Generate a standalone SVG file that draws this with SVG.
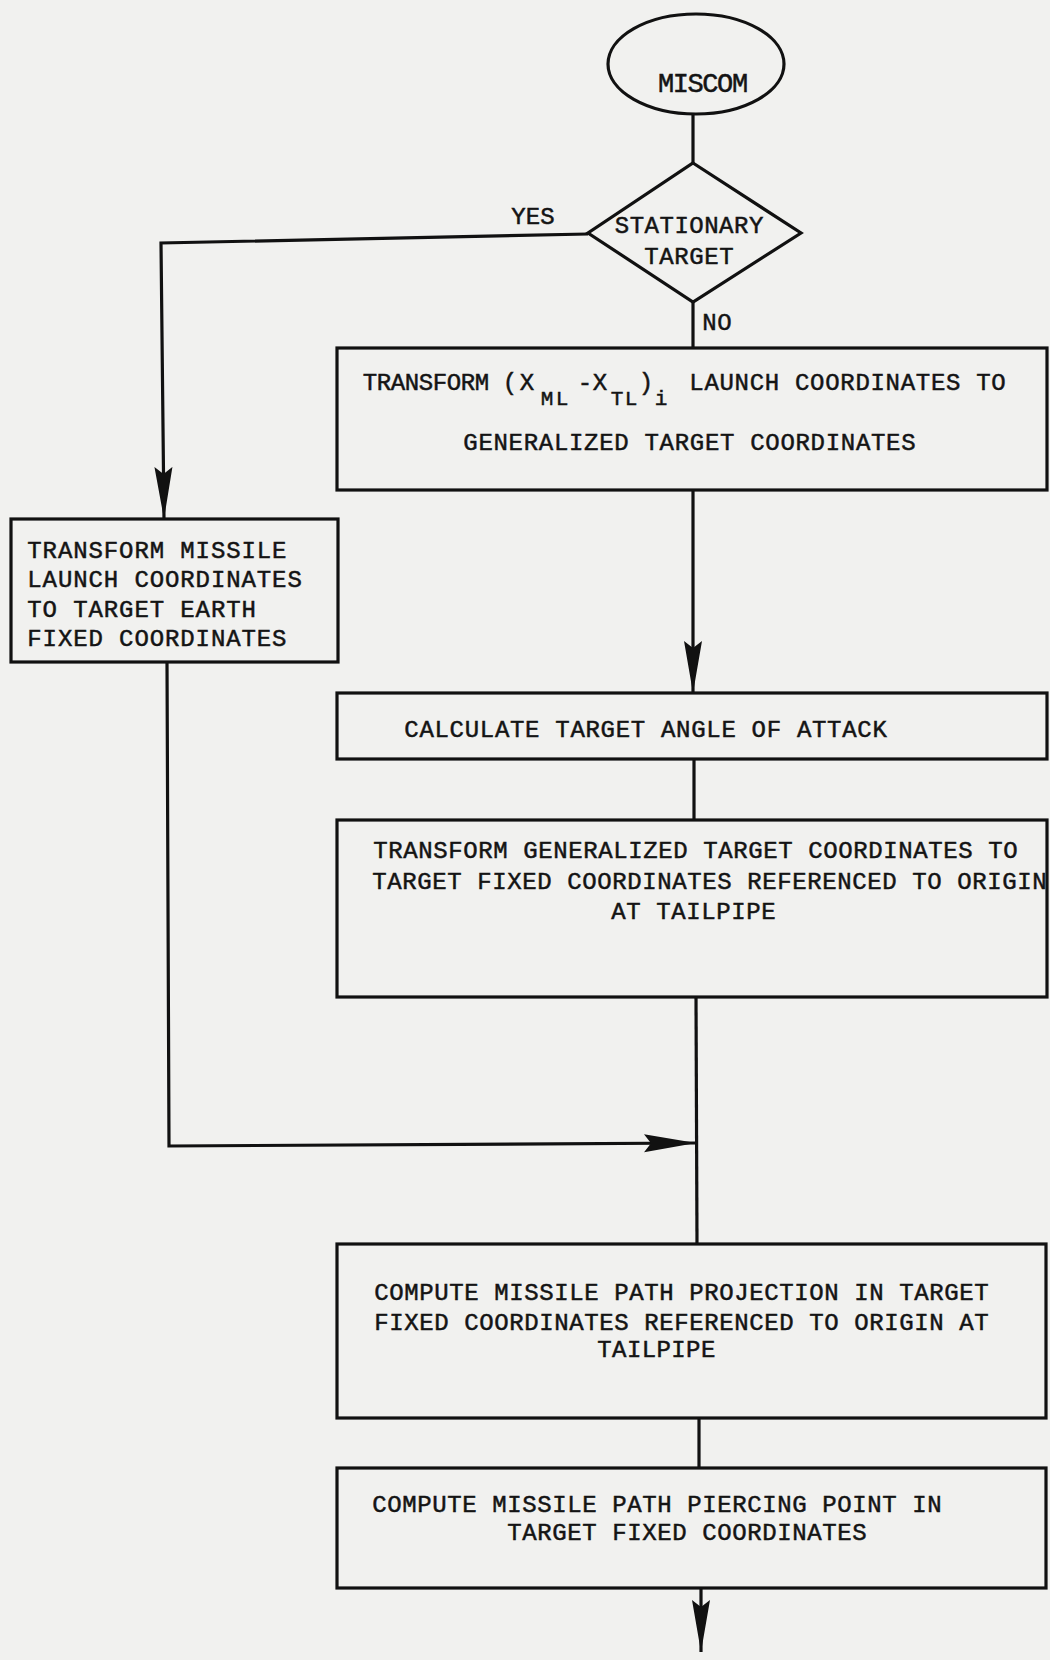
<svg xmlns="http://www.w3.org/2000/svg" width="1050" height="1660" viewBox="0 0 1050 1660">
<style>
.bg{fill:#f1f1ef}
.shape{fill:none;stroke:#111;stroke-width:3.2;stroke-linejoin:miter}
.line{fill:none;stroke:#111;stroke-width:3.2}
.t{font-family:"Liberation Mono","DejaVu Sans Mono",monospace;font-size:24px;fill:#141414;stroke:#141414;stroke-width:0.5;text-anchor:middle}
.big{font-size:27px}
.sub{font-size:21px}
</style>
<defs>
<marker id="arrow" viewBox="0 0 52 20" refX="52" refY="10" markerWidth="52" markerHeight="20" markerUnits="userSpaceOnUse" orient="auto">
<path d="M0,1 L52,10 L0,19 L7,10 z" fill="#111"/>
</marker>
</defs>
<rect class="bg" x="0" y="0" width="1050" height="1660"/>

<g id="connectors">
<line class="line" x1="693" y1="115" x2="693" y2="163"/>
<line class="line" x1="693" y1="302" x2="693" y2="348"/>
<path class="line" d="M588,234 L161,243 L164,519" marker-end="url(#arrow)"/>
<line class="line" x1="693" y1="490" x2="693" y2="693" marker-end="url(#arrow)"/>
<line class="line" x1="694" y1="759" x2="694" y2="820"/>
<line class="line" x1="696" y1="997" x2="697" y2="1244"/>
<path class="line" d="M167,662 L169,1146 L696,1143" marker-end="url(#arrow)"/>
<line class="line" x1="699" y1="1418" x2="699" y2="1468"/>
<line class="line" x1="701" y1="1588" x2="701" y2="1652" marker-end="url(#arrow)"/>
</g>

<g id="miscom">
<ellipse class="shape" cx="696" cy="64" rx="88" ry="50"/>
<text class="t big" x="666 680.8 695.6 710.4 725.2 740" y="92">MISCOM</text>
</g>

<g id="stationary-target">
<polygon class="shape" points="693,163 801,233 693,302 588,233"/>
<text class="t" x="622 636.9 651.8 666.7 681.6 696.5 711.4 726.3 741.2 756.1" y="233">STATIONARY</text>
<text class="t" x="651.5 666.5 681.5 696.5 711.5 726.5" y="264">TARGET</text>
<text class="t" x="518.5 533 547.5" y="224">YES</text>
<text class="t" x="709.5 724.5" y="330">NO</text>
</g>

<g id="transform-launch">
<rect class="shape" x="337" y="348" width="710" height="142"/>
<text class="t" x="370 384 398 412 426 440 454 468 482" y="390">TRANSFORM</text>
<text class="t" x="510 527" y="390">(X</text>
<text class="t sub" x="547 562" y="405">ML</text>
<text class="t" x="585 600" y="390">-X</text>
<text class="t sub" x="617 631" y="405">TL</text>
<text class="t" x="646" y="390">)</text>
<text class="t sub" x="661" y="405">i</text>
<text class="t" x="696.5 711.6 726.7 741.8 756.9 772 787.1 802.2 817.3 832.4 847.5 862.6 877.7 892.8 907.9 923 938.1 953.2 968.3 983.4 998.5" y="390">LAUNCH COORDINATES TO</text>
<text class="t" x="470.5 485.6 500.7 515.8 530.9 546 561.1 576.2 591.3 606.4 621.5 636.6 651.7 666.8 681.9 697 712.1 727.2 742.3 757.4 772.5 787.6 802.7 817.8 832.9 848 863.1 878.2 893.3 908.4" y="450">GENERALIZED TARGET COORDINATES</text>
</g>

<g id="transform-missile">
<rect class="shape" x="11" y="519" width="327" height="143"/>
<text class="t" x="34.5 49.8 65.1 80.4 95.7 111 126.3 141.6 156.9 172.2 187.5 202.8 218.1 233.4 248.7 264 279.3 294.6" y="558">TRANSFORM MISSILE</text>
<text class="t" x="34.5 49.8 65.1 80.4 95.7 111 126.3 141.6 156.9 172.2 187.5 202.8 218.1 233.4 248.7 264 279.3 294.6" y="587">LAUNCH COORDINATES</text>
<text class="t" x="34.5 49.8 65.1 80.4 95.7 111 126.3 141.6 156.9 172.2 187.5 202.8 218.1 233.4 248.7 264 279.3 294.6" y="617">TO TARGET EARTH</text>
<text class="t" x="34.5 49.8 65.1 80.4 95.7 111 126.3 141.6 156.9 172.2 187.5 202.8 218.1 233.4 248.7 264 279.3 294.6" y="646">FIXED COORDINATES</text>
</g>

<g id="angle-of-attack">
<rect class="shape" x="337" y="693" width="710" height="66"/>
<text class="t" x="411.5 426.6 441.7 456.8 471.9 487 502.1 517.2 532.3 547.4 562.5 577.6 592.7 607.8 622.9 638 653.1 668.2 683.3 698.4 713.5 728.6 743.7 758.8 773.9 789 804.1 819.2 834.3 849.4 864.5 879.6" y="737">CALCULATE TARGET ANGLE OF ATTACK</text>
</g>

<g id="transform-generalized">
<rect class="shape" x="337" y="820" width="710" height="177"/>
<text class="t" x="380.5 395.5 410.5 425.5 440.5 455.5 470.5 485.5 500.5 515.5 530.5 545.5 560.5 575.5 590.5 605.5 620.5 635.5 650.5 665.5 680.5 695.5 710.5 725.5 740.5 755.5 770.5 785.5 800.5 815.5 830.5 845.5 860.5 875.5 890.5 905.5 920.5 935.5 950.5 965.5 980.5 995.5 1010.5" y="858">TRANSFORM GENERALIZED TARGET COORDINATES TO</text>
<text class="t" x="379.5 394.5 409.5 424.5 439.5 454.5 469.5 484.5 499.5 514.5 529.5 544.5 559.5 574.5 589.5 604.5 619.5 634.5 649.5 664.5 679.5 694.5 709.5 724.5 739.5 754.5 769.5 784.5 799.5 814.5 829.5 844.5 859.5 874.5 889.5 904.5 919.5 934.5 949.5 964.5 979.5 994.5 1009.5 1024.5 1039.5" y="889">TARGET FIXED COORDINATES REFERENCED TO ORIGIN</text>
<text class="t" x="618.5 633.5 648.5 663.5 678.5 693.5 708.5 723.5 738.5 753.5 768.5" y="919">AT TAILPIPE</text>
</g>

<g id="path-projection">
<rect class="shape" x="337" y="1244" width="709" height="174"/>
<text class="t" x="381.5 396.5 411.5 426.5 441.5 456.5 471.5 486.5 501.5 516.5 531.5 546.5 561.5 576.5 591.5 606.5 621.5 636.5 651.5 666.5 681.5 696.5 711.5 726.5 741.5 756.5 771.5 786.5 801.5 816.5 831.5 846.5 861.5 876.5 891.5 906.5 921.5 936.5 951.5 966.5 981.5" y="1300">COMPUTE MISSILE PATH PROJECTION IN TARGET</text>
<text class="t" x="381.5 396.5 411.5 426.5 441.5 456.5 471.5 486.5 501.5 516.5 531.5 546.5 561.5 576.5 591.5 606.5 621.5 636.5 651.5 666.5 681.5 696.5 711.5 726.5 741.5 756.5 771.5 786.5 801.5 816.5 831.5 846.5 861.5 876.5 891.5 906.5 921.5 936.5 951.5 966.5 981.5" y="1330">FIXED COORDINATES REFERENCED TO ORIGIN AT</text>
<text class="t" x="604.5 619.3 634.1 648.9 663.7 678.5 693.3 708.1" y="1357">TAILPIPE</text>
</g>

<g id="piercing-point">
<rect class="shape" x="337" y="1468" width="709" height="120"/>
<text class="t" x="379.5 394.5 409.5 424.5 439.5 454.5 469.5 484.5 499.5 514.5 529.5 544.5 559.5 574.5 589.5 604.5 619.5 634.5 649.5 664.5 679.5 694.5 709.5 724.5 739.5 754.5 769.5 784.5 799.5 814.5 829.5 844.5 859.5 874.5 889.5 904.5 919.5 934.5" y="1512">COMPUTE MISSILE PATH PIERCING POINT IN</text>
<text class="t" x="514.5 529.5 544.5 559.5 574.5 589.5 604.5 619.5 634.5 649.5 664.5 679.5 694.5 709.5 724.5 739.5 754.5 769.5 784.5 799.5 814.5 829.5 844.5 859.5" y="1540">TARGET FIXED COORDINATES</text>
</g>
</svg>
